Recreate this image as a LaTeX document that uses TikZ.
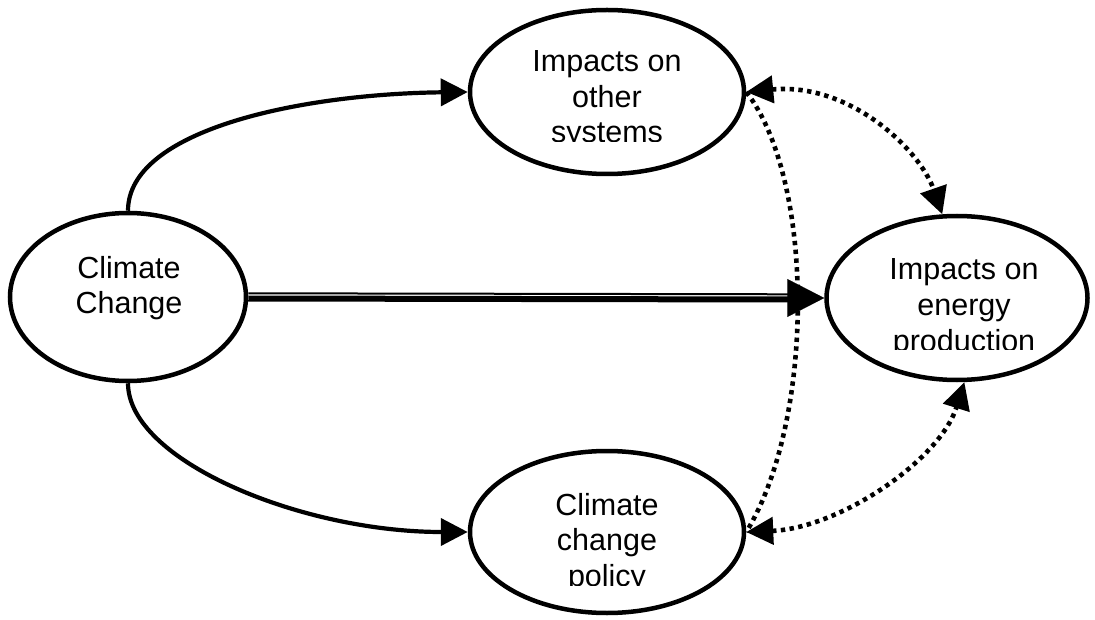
\documentclass[tikz,border=0pt]{standalone}
\usepackage{fontspec}
\setmainfont{Liberation Sans}
\usetikzlibrary{shapes.geometric,arrows.meta}
\begin{document}
\begin{tikzpicture}[x=1pt,y=-1pt,
  bubble/.style={ellipse,draw,line width=4.5pt,inner sep=0pt},
  lbl/.style={align=center,inner sep=0pt,anchor=base,font=\fontsize{30.5}{35.5}\selectfont},
  tri/.tip={Triangle[length=27pt,width=27pt]},
  bigtri/.tip={Triangle[length=37pt,width=38pt]},
  curvearrow/.style={line width=4.2pt,-tri},
  dotline/.style={line width=4.6pt,dash pattern=on 4.4pt off 4.4pt}
]
\useasboundingbox (0,0) rectangle (1095,620);
% ellipses
\node[bubble,minimum width=236pt,minimum height=168pt] (cc) at (128,297) {};
\node[bubble,minimum width=274pt,minimum height=164pt] (io) at (607,92) {};
\node[bubble,minimum width=274pt,minimum height=162pt] (pol) at (607,532) {};
\node[bubble,minimum width=261pt,minimum height=164pt] (en) at (957,298) {};
% texts (anchor base = baseline of last line)
\node[lbl] (tcc) at (129,313.5) {Climate\\Change};
\begin{scope}
  \clip (470,10) rectangle (745,142);
  \node[lbl] (tio) at (607,143) {Impacts on\\other\\systems};
\end{scope}
\begin{scope}
  \clip (827,215) rectangle (1088,349);
  \node[lbl] (ten) at (964,351) {Impacts on\\energy\\production};
\end{scope}
\begin{scope}
  \clip (470,452) rectangle (745,585);
  \node[lbl] (tpol) at (607,586) {Climate\\change\\policy};
\end{scope}
% solid curved arrows
\draw[curvearrow] (cc.north) .. controls (128,130) and (300,94) .. (io.west);
\draw[curvearrow] (cc.south) .. controls (128,460) and (300,532) .. (pol.west);
% double straight arrow
\coordinate (dstart) at (cc.east);
\coordinate (dend) at (en.west);
\draw[line width=6pt] ([yshift=-1.5pt]dstart) -- ([xshift=-30pt,yshift=-1.5pt]dend);
\draw[line width=2pt] ([yshift=3.7pt]dstart) -- ([xshift=-30pt,yshift=3.7pt]dend);
\draw[line width=0.1pt,-bigtri] ([xshift=-31pt]dend) -- (dend);
% dotted connectors
\draw[dotline,tri-tri] (io.east) .. controls (850,82) and (920,150) .. (en.100);
\draw[dotline] (io.east) .. controls (815,180) and (815,420) .. (pol.east);
\draw[dotline,tri-tri] (pol.east) .. controls (840,528) and (940,460) .. (en.275);
\end{tikzpicture}
\end{document}
